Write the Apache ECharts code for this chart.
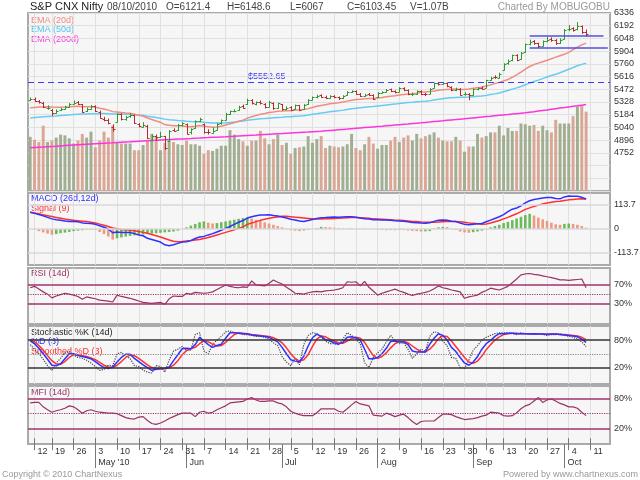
<!DOCTYPE html>
<html>
<head>
<meta charset="utf-8">
<title>S&amp;P CNX Nifty</title>
<script src="https://cdn.jsdelivr.net/npm/echarts@6/dist/echarts.min.js"></script>
<style>
  html, body { margin: 0; padding: 0; background: #fff; }
  #chart { width: 640px; height: 480px; }
</style>
</head>
<body>
<div id="chart"></div>
<script>
// trading days shown on the axis (last five are empty future days)
var dates = ['04/09','04/12','04/13','04/15','04/16','04/19','04/20','04/21','04/22','04/23','04/26','04/27','04/28','04/29','04/30',
  '05/03','05/04','05/05','05/06','05/07','05/10','05/11','05/12','05/13','05/14','05/17','05/18','05/19','05/20','05/21','05/24','05/25','05/26','05/27','05/28','05/31',
  '06/01','06/02','06/03','06/04','06/07','06/08','06/09','06/10','06/11','06/14','06/15','06/16','06/17','06/18','06/21','06/22','06/23','06/24','06/25','06/28','06/29','06/30',
  '07/01','07/02','07/05','07/06','07/07','07/08','07/09','07/12','07/13','07/14','07/15','07/16','07/19','07/20','07/21','07/22','07/23','07/26','07/27','07/28','07/29','07/30',
  '08/02','08/03','08/04','08/05','08/06','08/09','08/10','08/11','08/12','08/13','08/16','08/17','08/18','08/19','08/20','08/23','08/24','08/25','08/26','08/27','08/30','08/31',
  '09/01','09/02','09/03','09/06','09/07','09/08','09/09','09/13','09/14','09/15','09/16','09/17','09/20','09/21','09/22','09/23','09/24','09/27','09/28','09/29','09/30',
  '10/01','10/04','10/05','10/06','10/07','10/08',
  '10/11','10/12','10/13','10/14','10/15'];
var monthNames = {'05': "May '10", '06': 'Jun', '07': 'Jul', '08': 'Aug', '09': 'Sep', '10': 'Oct'};

var opens = [5350,5365,5340,5320,5255,5240,5205,5235,5250,5275,5310,5330,5300,5225,5250,
  5285,5220,5140,5120,5050,5100,5190,5130,5165,5180,5080,5050,5060,4900,4940,4930,4940,4890,5015,5010,5070,
  5080,4985,5030,5115,5080,4990,4980,5010,5085,5125,5195,5230,5240,5280,5300,5355,5300,5330,5310,5270,5320,5255,
  5300,5250,5270,5245,5290,5245,5300,5355,5385,5405,5390,5375,5395,5380,5370,5405,5440,5455,5420,5395,5415,5410,
  5380,5435,5440,5470,5450,5445,5490,5465,5415,5420,5455,5420,5420,5485,5545,5535,5545,5500,5460,5480,5415,5420,
  5405,5475,5490,5490,5580,5610,5605,5690,5765,5800,5865,5810,5890,5985,6015,5995,5960,6020,6040,6030,5995,
  6040,6150,6165,6150,6190,6121.4];
var highs = [5380,5378,5350,5330,5290,5250,5245,5265,5285,5315,5345,5340,5305,5265,5295,
  5290,5230,5160,5140,5075,5200,5200,5170,5200,5185,5090,5100,5070,4960,4960,4990,4945,5010,5030,5080,5100,
  5085,5030,5120,5150,5085,5020,5040,5090,5130,5205,5230,5245,5285,5300,5366,5360,5335,5345,5315,5340,5325,5320,
  5305,5280,5280,5300,5295,5305,5360,5390,5410,5415,5400,5405,5405,5390,5405,5450,5460,5460,5430,5420,5430,5415,
  5440,5450,5475,5480,5460,5495,5495,5470,5435,5460,5460,5430,5485,5549,5550,5555,5550,5505,5490,5485,5440,5430,
  5480,5495,5505,5580,5615,5630,5660,5767,5810,5865,5870,5895,5990,6035,6030,6000,6025,6065,6060,6040,6050,
  6155,6200,6175,6233,6195,6148.6];
var lows = [5340,5330,5310,5260,5240,5170,5195,5225,5240,5265,5300,5295,5205,5215,5240,
  5215,5140,5110,5075,4990,5095,5120,5115,5150,5080,5040,5040,4910,4890,4890,4920,4786,4880,4990,5000,5050,
  4960,4960,5025,5100,4970,4960,4970,5005,5070,5120,5180,5210,5230,5250,5295,5300,5290,5300,5255,5265,5240,5250,
  5230,5235,5225,5240,5225,5240,5295,5345,5370,5375,5360,5365,5370,5350,5360,5400,5430,5410,5385,5385,5395,5350,
  5375,5425,5435,5440,5425,5440,5450,5405,5395,5410,5405,5395,5415,5480,5515,5525,5495,5450,5450,5400,5400,5348,
  5400,5460,5470,5485,5570,5590,5595,5685,5750,5790,5790,5805,5885,5970,5975,5940,5955,6005,6010,5975,5985,
  6035,6130,6125,6140,6100,6067];
var closes = [5361,5339,5323,5273,5262,5203,5230,5245,5269,5304,5322,5308,5216,5254,5278,
  5223,5149,5124,5091,5018,5193,5136,5156,5179,5093,5059,5066,4919,4947,4931,4944,4806,5001,5003,5067,5087,
  4970,5019,5110,5135,4987,4987,5000,5078,5119,5197,5222,5231,5275,5262,5353,5316,5323,5320,5269,5333,5256,5313,
  5252,5263,5236,5289,5241,5296,5352,5383,5400,5386,5378,5393,5386,5368,5399,5441,5449,5418,5398,5409,5408,5367,
  5431,5439,5467,5447,5439,5486,5460,5420,5416,5452,5418,5414,5479,5540,5530,5543,5505,5462,5477,5409,5416,5402,
  5471,5486,5480,5576,5603,5607,5640,5760,5795,5860,5808,5884,5980,6009,5991,5959,6018,6035,6029,5991,6029,
  6143,6159,6145,6186,6120,6103.45];
// volume in billions
var volumes = [0.73,0.69,0.66,0.88,0.66,0.68,0.72,0.76,0.75,0.71,0.64,0.68,0.77,0.72,0.80,0.59,0.68,0.80,0.72,0.88,
  0.65,0.64,0.64,0.64,0.55,0.55,0.62,0.68,0.77,0.73,0.55,0.65,0.68,0.66,0.63,0.62,0.68,0.63,0.63,0.61,
  0.50,0.55,0.54,0.57,0.61,0.61,0.82,0.76,0.70,0.67,0.61,0.68,0.68,0.81,0.71,0.63,0.70,0.76,0.62,0.65,
  0.50,0.58,0.59,0.60,0.74,0.65,0.70,0.74,0.58,0.61,0.60,0.59,0.60,0.63,0.77,0.58,0.55,0.63,0.73,0.64,
  0.57,0.62,0.62,0.68,0.73,0.66,0.72,0.75,0.68,0.77,0.71,0.74,0.76,0.79,0.72,0.68,0.67,0.67,0.73,0.68,
  0.53,0.60,0.60,0.77,0.72,0.74,0.79,0.79,0.88,0.75,0.85,0.81,0.81,0.91,0.90,0.88,0.89,0.81,0.88,0.82,
  0.79,0.96,0.91,0.91,0.91,1.01,1.14,1.15,1.07];

var ema20 = [5262,5267,5272,5272,5274,5270,5268,5268,5270,5273,5278,5281,5275,5273,5274,
  5269,5258,5248,5236,5219,5216,5208,5203,5200,5190,5179,5169,5147,5130,5113,5098,5072,5065,5058,5058,5060,
  5051,5047,5053,5061,5054,5047,5043,5046,5053,5067,5081,5094,5110,5123,5145,5161,5176,5189,5198,5210,5214,5223,
  5225,5229,5230,5236,5237,5242,5253,5266,5279,5289,5298,5307,5314,5319,5327,5338,5349,5355,5359,5364,5368,5368,
  5374,5380,5388,5394,5399,5408,5413,5418,5422,5428,5440,5442,5446,5452,5460,5466,5470,5472,5474,5470,5470,5476,
  5484,5490,5496,5510,5522,5536,5550,5566,5582,5608,5636,5666,5700,5730,5752,5768,5784,5800,5818,5836,5852,
  5868,5890,5920,5950,5975,5995];
var ema50 = [5148,5152,5156,5160,5164,5167,5170,5174,5178,5182,5186,5189,5191,5193,5195,
  5196,5197,5197,5196,5193,5193,5191,5190,5189,5185,5180,5175,5166,5160,5152,5145,5134,5128,5123,5119,5116,
  5110,5106,5104,5103,5098,5094,5090,5089,5090,5093,5097,5101,5107,5112,5120,5126,5132,5137,5140,5145,5149,5153,
  5156,5160,5162,5167,5169,5173,5180,5188,5196,5203,5210,5217,5223,5229,5236,5244,5252,5258,5263,5268,5273,5276,
  5282,5288,5294,5299,5304,5311,5317,5321,5325,5330,5333,5337,5343,5351,5358,5366,5372,5376,5380,5382,5383,5384,
  5388,5392,5396,5403,5412,5420,5430,5444,5458,5474,5488,5504,5523,5542,5560,5576,5593,5611,5628,5643,5659,
  5679,5699,5718,5738,5754,5767];
var ema200 = [4809,4812,4815,4818,4821,4824,4827,4831,4834,4837,4840,4843,4846,4849,4852,
  4855,4858,4861,4864,4866,4869,4872,4875,4877,4880,4883,4886,4889,4892,4894,4897,4900,4903,4905,4908,4910,
  4913,4915,4918,4920,4923,4925,4928,4930,4933,4935,4938,4940,4943,4946,4949,4952,4954,4957,4960,4963,4966,4969,
  4971,4974,4977,4980,4983,4986,4988,4991,4994,4997,5001,5005,5009,5013,5017,5021,5026,5030,5034,5038,5042,5046,
  5050,5054,5059,5063,5067,5071,5075,5079,5084,5088,5092,5097,5101,5106,5111,5115,5120,5125,5129,5134,5139,5143,
  5148,5153,5158,5163,5167,5172,5177,5182,5186,5191,5196,5201,5205,5212,5218,5225,5232,5238,5245,5252,5259,
  5265,5272,5279,5285,5292,5299];

var macdLine = [79,74,69,62,55,48,44,41,38,36,35,34,29,27,26,22,15,8,0,-18,
  -14,-16,-17,-17,-22,-28,-32,-44,-50,-56,-62,-75,-79,-75,-68,-62,-60,-55,-45,-38,
  -35,-28,-22,-14,-6,3,12,22,32,40,52,58,63,66,66,68,64,62,57,52,
  46,43,38,36,40,45,50,53,54,56,57,56,57,58,58,56,52,49,47,44,
  44,43,43,41,39,38,37,34,31,30,28,27,30,36,42,43,41,37,35,28,
  22,20,22,25,26,34,42,50,58,68,82,94,99,110,124,134,140,143,147,149,
  149,145,143,152,156,155,155,150,142];
var signalLine = [79,76,72,67,63,59,55,51,47,44,41,39,37,35,32,28,23,18,12,5,
  1,-2,-4,-6,-8,-12,-16,-20,-26,-32,-38,-45,-52,-58,-60,-59,-57,-55,-52,-50,
  -45,-40,-34,-28,-22,-16,-10,-4,3,10,22,28,35,41,46,51,54,57,60,60,
  58,56,54,52,50,48,47,47,48,49,50,51,52,53,54,54,53,52,51,48,
  47,46,45,44,42,41,40,38,36,35,33,32,32,32,33,34,35,35,35,34,
  32,29,27,25,22,24,28,34,40,48,55,64,72,82,93,100,107,113,118,123,
  127,130,132,135,138,140,142,143,142];
var macdHist = [0,-3,-10,-16,-22,-27,-24,-20,-17,-14,-10,-8,-6,-4,-3,-5,-14,-24,-36,-50,
  -44,-40,-36,-33,-30,-28,-26,-24,-22,-20,-18,-16,-14,-12,-8,0,8,16,24,32,
  36,30,26,28,32,36,40,44,48,52,55,50,44,38,32,26,20,14,8,2,
  -6,-8,-10,-7,-4,0,4,10,9,8,6,4,3,2,3,2,1,2,1,0,
  -3,-5,-6,-5,-6,-4,-5,-7,-9,-10,-12,-11,-10,3,8,10,9,2,-5,-12,
  -16,-18,-15,-12,-8,-2,8,14,20,28,34,42,50,58,66,72,64,54,46,38,
  30,22,20,24,26,24,20,14,6];

var rsi = [64,67,61,55,50,42,46,49,52,50,48,45,39,44,42,40,37,36,35,33,
  48,45,43,41,38,35,32,31,30,31,32,28,40,46,45,45,52,50,54,53,
  52,53,55,60,65,70,67,65,64,66,65,79,70,69,68,74,81,76,72,65,
  59,52,51,50,53,55,56,55,57,58,59,61,64,77,76,77,68,78,65,57,
  48,52,55,58,61,57,54,50,47,50,52,54,57,62,68,64,62,59,57,55,
  41,44,46,48,54,58,63,61,59,63,67,75,83,92,94,95,93,92,90,88,
  86,84,81,81,80,81,82,83,64];

var stochK = [70,60,50,38,24,14,30,40,52,55,47,42,40,36,30,22,14,16,25,24,
  50,53,45,40,24,22,14,10,8,24,22,10,36,56,60,66,58,58,92,96,
  56,50,70,80,88,98,100,96,95,92,92,90,88,88,86,82,74,68,44,32,
  24,40,26,70,90,96,94,86,78,72,72,70,82,96,90,82,72,30,20,42,
  52,60,76,90,78,72,74,60,40,50,60,56,88,98,96,78,68,42,40,20,
  18,36,58,68,80,86,90,94,96,96,96,94,92,96,94,94,92,94,92,90,
  92,92,94,90,88,86,82,76,66];
var stochD = [78,72,62,50,38,25,24,28,39,50,50,46,44,42,39,33,26,20,18,21,
  32,42,49,49,40,33,26,20,14,16,18,18,21,35,48,61,62,61,70,86,
  78,70,64,68,71,84,96,96,95,94,93,91,90,89,88,86,81,76,64,50,
  37,34,32,45,67,85,93,88,81,78,74,71,75,86,87,85,80,60,39,39,
  42,50,62,77,78,76,76,70,56,54,54,54,71,84,94,90,80,64,55,42,
  30,25,32,44,60,72,79,88,94,94,95,95,94,94,94,93,94,93,93,92,
  93,93,92,91,90,89,87,82,75];
var stochSmooth = [80,76,68,58,46,35,28,27,33,42,48,48,46,44,41,37,31,25,21,20,
  25,33,42,47,46,40,33,26,20,17,17,18,19,25,35,48,57,61,64,72,
  78,76,71,67,68,75,84,92,96,95,94,92,91,90,89,88,85,81,74,63,
  50,40,34,37,48,66,82,89,87,82,78,74,73,78,83,86,84,75,60,46,
  40,44,52,63,72,77,77,74,67,60,55,54,60,70,83,89,88,78,66,54,
  42,32,29,34,45,59,70,80,87,92,94,95,95,94,94,94,94,93,93,93,
  93,93,92,92,91,90,89,86,81];

var mfi = [72,73,73,64,58,53,56,58,61,66,64,58,51,56,58,55,53,52,51,51,
  50,46,42,40,39,43,44,36,30,28,31,35,40,44,48,51,51,51,44,53,
  55,51,53,58,62,66,72,73,74,75,80,83,78,75,75,76,76,72,70,64,
  55,51,48,46,46,46,52,60,60,60,60,55,53,60,68,75,70,68,66,47,
  46,45,51,48,44,47,49,42,34,28,34,35,35,35,42,49,49,48,44,41,
  38,39,40,42,45,47,53,52,51,46,45,46,52,60,66,69,76,83,73,78,
  80,76,71,68,64,64,61,53,46];

// reference levels
var supportLevel = 5552.65;
var drawnLines = [['09/21', '10/14', 6083], ['09/21', '10/15', 5940]];
var macdLevels = [113.7, 0, -113.7];
var rsiLevels = [70, 30];
var stochLevels = [80, 20];
var mfiLevels = [80, 20];

var upColor = '#2f9a2f', downColor = '#b52a2a';
var volUp = '#a2ae92', volDown = '#d9a795';
var font = 'Liberation Sans, Arial, sans-serif';

function isMonday(v) {
  return new Date(2010, +v.slice(0, 2) - 1, +v.slice(3)).getDay() === 1;
}
function mondayFn(i, v) { return isMonday(v); }
function monthStartFn(i, v) { return i > 0 && v.slice(0, 2) !== dates[i - 1].slice(0, 2); }

var ohlcData = closes.map(function (c, i) { return [i, opens[i], highs[i], lows[i], c]; });

function renderOHLC(params, api) {
  var i = api.value(0);
  var o = api.coord([i, api.value(1)]);
  var h = api.coord([i, api.value(2)]);
  var l = api.coord([i, api.value(3)]);
  var c = api.coord([i, api.value(4)]);
  var w = 2;
  var x = Math.round(h[0]) + 0.5;
  var col = api.value(4) >= api.value(1) ? upColor : downColor;
  var st = { stroke: col, lineWidth: 1 };
  return {
    type: 'group',
    children: [
      { type: 'line', shape: { x1: x, y1: h[1], x2: x, y2: l[1] }, style: st },
      { type: 'line', shape: { x1: x - w, y1: Math.round(o[1]) + 0.5, x2: x, y2: Math.round(o[1]) + 0.5 }, style: st },
      { type: 'line', shape: { x1: x, y1: Math.round(c[1]) + 0.5, x2: x + w, y2: Math.round(c[1]) + 0.5 }, style: st }
    ]
  };
}

function levelLines(levels, color, labels, dottedAt) {
  var d = levels.map(function (v, k) {
    return { yAxis: v, lineStyle: { color: color, type: 'solid', width: 1.5 },
      label: { show: !!labels, formatter: labels ? labels[k] : '' } };
  });
  if (dottedAt !== undefined) {
    d.push({ yAxis: dottedAt, lineStyle: { color: color, type: 'dotted', width: 1.2 }, label: { show: false } });
  }
  return {
    silent: true, symbol: 'none', animation: false,
    label: { position: 'end', color: '#333', fontSize: 9, fontFamily: font, distance: 4 },
    data: d
  };
}

var grids = [
  { top: 13, height: 178 },
  { top: 193, height: 72 },
  { top: 268, height: 56 },
  { top: 326, height: 58 },
  { top: 386, height: 58 }
].map(function (g) {
  return { left: 28, width: 582, top: g.top, height: g.height, show: true,
    backgroundColor: '#f6f6f6', borderColor: '#aaaaaa', borderWidth: 2 };
});

var xAxes = grids.map(function (g, k) {
  var last = k === grids.length - 1;
  return {
    type: 'category', gridIndex: k, data: dates, boundaryGap: true,
    axisLine: { show: false },
    axisTick: { show: last, interval: mondayFn, alignWithLabel: true, length: 12, lineStyle: { color: '#777' } },
    axisLabel: { show: last, interval: mondayFn, align: 'left', margin: 3, padding: [0, 0, 0, 3],
      fontSize: 9, color: '#333', fontFamily: font,
      formatter: function (v) { return String(+v.slice(3)); } },
    splitLine: { show: true, interval: mondayFn, alignWithLabel: true, lineStyle: { color: '#e0e0e0', width: 1 } }
  };
});
xAxes.push({
  type: 'category', gridIndex: 4, data: dates, boundaryGap: true, position: 'bottom',
  axisLine: { show: false },
  axisTick: { show: true, interval: monthStartFn, alignWithLabel: true, length: 24, lineStyle: { color: '#777' } },
  axisLabel: { show: true, interval: monthStartFn, align: 'left', margin: 14, padding: [0, 0, 0, 3],
    fontSize: 9, color: '#333', fontFamily: font,
    formatter: function (v) { return monthNames[v.slice(0, 2)] || ''; } },
  splitLine: { show: false }
});

function hiddenY(k, min, max) {
  return { type: 'value', gridIndex: k, min: min, max: max, position: 'right',
    axisLine: { show: false }, axisTick: { show: false }, axisLabel: { show: false }, splitLine: { show: false } };
}
var yAxes = [
  { type: 'value', gridIndex: 0, position: 'right', min: 4320, max: 6336, interval: 144,
    axisLine: { show: false }, axisTick: { show: false },
    axisLabel: { fontSize: 9, color: '#333', fontFamily: font, margin: 4,
      formatter: function (v) { return v < 4700 ? '' : String(v); } },
    splitLine: { show: true, lineStyle: { color: '#e0e0e0' } } },
  hiddenY(0, 0, 2.4),
  hiddenY(1, -170.55, 170.55),
  hiddenY(2, -15, 107),
  hiddenY(3, -16, 110.7),
  hiddenY(4, -12, 106.6)
];

function text(x, y, s, color, size) {
  return { type: 'text', left: x, top: y, silent: true,
    style: { text: s, fill: color, font: (size || 9) + 'px ' + font } };
}

var option = {
  animation: false,
  backgroundColor: '#fff',
  textStyle: { fontFamily: font },
  grid: grids,
  xAxis: xAxes,
  yAxis: yAxes,
  series: [
    { name: 'Volume', type: 'bar', xAxisIndex: 0, yAxisIndex: 1, data: volumes, barWidth: '68%', z: 1,
      itemStyle: { color: function (p) { return closes[p.dataIndex] >= opens[p.dataIndex] ? volUp : volDown; } } },
    { name: 'EMA (200d)', type: 'line', xAxisIndex: 0, yAxisIndex: 0, data: ema200, symbol: 'none', z: 2,
      lineStyle: { color: '#ff33dd', width: 1.5 },
      markLine: {
        silent: true, symbol: 'none', animation: false, label: { show: false },
        data: [{ yAxis: supportLevel, lineStyle: { color: '#3c3cf0', type: [6, 4], width: 1.2 } }].concat(
          drawnLines.map(function (d) {
            return [{ coord: [d[0], d[2]], lineStyle: { color: '#5050e0', type: 'solid', width: 1.5 } },
                    { coord: [d[1], d[2]] }];
          }))
      } },
    { name: 'EMA (50d)', type: 'line', xAxisIndex: 0, yAxisIndex: 0, data: ema50, symbol: 'none', z: 2,
      lineStyle: { color: '#66ccf0', width: 1.5 } },
    { name: 'EMA (20d)', type: 'line', xAxisIndex: 0, yAxisIndex: 0, data: ema20, symbol: 'none', z: 2,
      lineStyle: { color: '#f08c80', width: 1.5 } },
    { name: 'Price', type: 'custom', xAxisIndex: 0, yAxisIndex: 0, data: ohlcData, renderItem: renderOHLC, z: 3,
      encode: { x: 0, y: [1, 2, 3, 4] } },

    { name: 'Histogram', type: 'bar', xAxisIndex: 1, yAxisIndex: 2, data: macdHist, barWidth: '60%',
      itemStyle: { color: function (p) {
        var prev = p.dataIndex > 0 ? macdHist[p.dataIndex - 1] : 0;
        return p.value >= prev ? '#6cbb5a' : '#eb9a84'; } },
      markLine: levelLines(macdLevels, '#d8d8d8', ['113.7', '0', '-113.7']) },
    { name: 'Signal (9)', type: 'line', xAxisIndex: 1, yAxisIndex: 2, data: signalLine, symbol: 'none',
      lineStyle: { color: '#ff3030', width: 1.5 } },
    { name: 'MACD (26d,12d)', type: 'line', xAxisIndex: 1, yAxisIndex: 2, data: macdLine, symbol: 'none',
      lineStyle: { color: '#3030ff', width: 1.5 } },

    { name: 'RSI (14d)', type: 'line', xAxisIndex: 2, yAxisIndex: 3, data: rsi, symbol: 'none',
      lineStyle: { color: '#993366', width: 1.2 },
      markLine: levelLines(rsiLevels, '#a3306e', ['70%', '30%'], 50) },

    { name: '%K', type: 'line', xAxisIndex: 3, yAxisIndex: 4, data: stochK, symbol: 'none',
      lineStyle: { color: '#444', width: 1.2, type: 'dotted' },
      markLine: levelLines(stochLevels, '#333', ['80%', '20%']) },
    { name: 'Smoothed %D', type: 'line', xAxisIndex: 3, yAxisIndex: 4, data: stochSmooth, symbol: 'none',
      lineStyle: { color: '#ff3030', width: 1.5 },
      markLine: levelLines([], '#888', null, 50) },
    { name: '%D', type: 'line', xAxisIndex: 3, yAxisIndex: 4, data: stochD, symbol: 'none',
      lineStyle: { color: '#3030ff', width: 1.5 } },

    { name: 'MFI (14d)', type: 'line', xAxisIndex: 4, yAxisIndex: 5, data: mfi, symbol: 'none',
      lineStyle: { color: '#993366', width: 1.2 },
      markLine: levelLines(mfiLevels, '#a3306e', ['80%', '20%'], 50) }
  ],
  graphic: [
    text(30, 1, 'S&P CNX Nifty', '#222', 11),
    text(107, 2, '08/10/2010', '#444', 10),
    text(166, 2, 'O=6121.4', '#444', 10),
    text(227, 2, 'H=6148.6', '#444', 10),
    text(290, 2, 'L=6067', '#444', 10),
    text(347, 2, 'C=6103.45', '#444', 10),
    text(410, 2, 'V=1.07B', '#444', 10),
    { type: 'text', right: 30, top: 2, silent: true,
      style: { text: 'Charted By MOBUGOBU', fill: '#999', font: '10px ' + font } },
    text(31, 16, 'EMA (20d)', '#f08c80'),
    text(31, 25, 'EMA (50d)', '#55c4ee'),
    text(31, 35, 'EMA (200d)', '#ff33dd'),
    text(248, 72, '$5552.65', '#3c3cf0'),
    text(31, 194, 'MACD (26d,12d)', '#3030ff'),
    text(31, 204, 'Signal (9)', '#ff3030'),
    text(31, 269, 'RSI (14d)', '#993366'),
    text(31, 328, 'Stochastic %K (14d)', '#222'),
    text(31, 337, '%D (3)', '#3030ff'),
    text(31, 347, 'Smoothed %D (3)', '#ff3030'),
    text(31, 388, 'MFI (14d)', '#993366'),
    text(2, 470, 'Copyright \u00a9 2010 ChartNexus', '#999'),
    { type: 'text', right: 2, top: 470, silent: true,
      style: { text: 'Powered by www.chartnexus.com', fill: '#999', font: '9px ' + font } }
  ]
};

var chart = echarts.init(document.getElementById('chart'), null, { renderer: 'canvas' });
chart.setOption(option);
</script>
</body>
</html>
